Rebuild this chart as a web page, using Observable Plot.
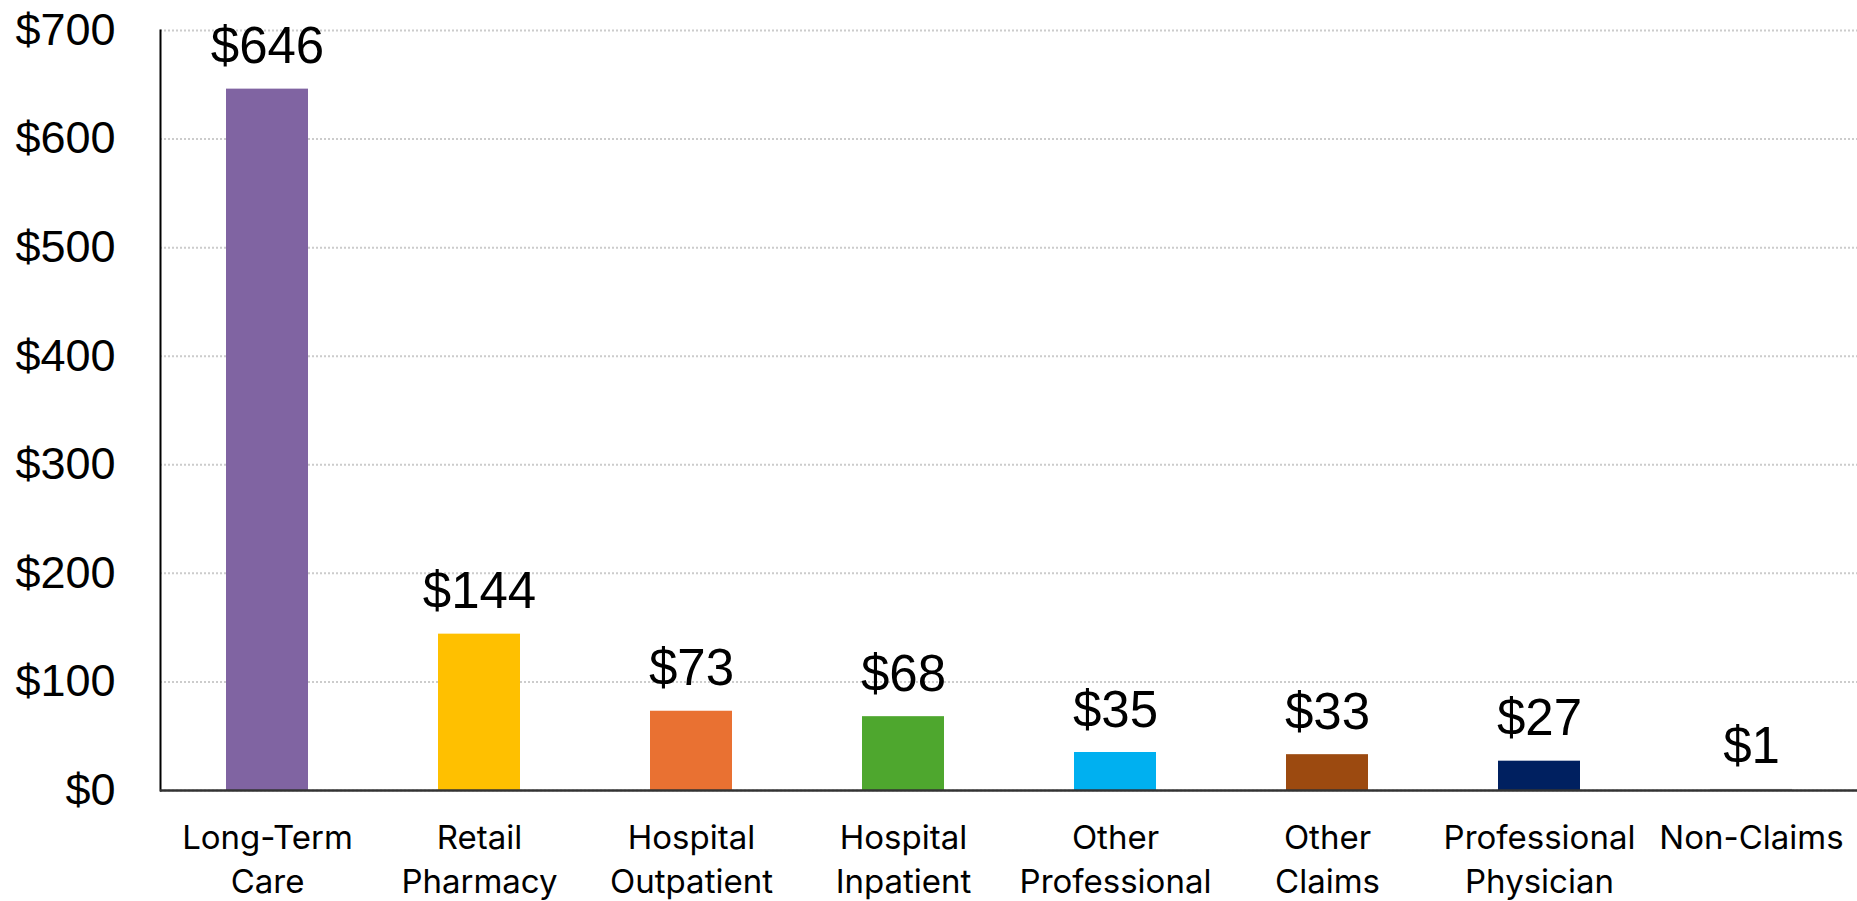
<!DOCTYPE html>
<html>
<head>
<meta charset="utf-8">
<script src="https://cdn.jsdelivr.net/npm/d3@7"></script>
<script src="https://cdn.jsdelivr.net/npm/@observablehq/plot@0.6"></script>
<style>
  html, body { margin: 0; padding: 0; background: #ffffff; }
  #chart svg { display: block; }
</style>
</head>
<body>
<div id="chart"></div>
<script>
// Data
const categories = ["Long-Term Care", "Retail Pharmacy", "Hospital Outpatient", "Hospital Inpatient", "Other Professional", "Other Claims", "Professional Physician", "Non-Claims"];
const categoryLabels = ["Long-Term\nCare", "Retail\nPharmacy", "Hospital\nOutpatient", "Hospital\nInpatient", "Other\nProfessional", "Other\nClaims", "Professional\nPhysician", "Non-Claims"];
const values = [646, 144, 73, 68, 35, 33, 27, 1];
const colors = ["#8064A2", "#FFC000", "#E97132", "#4EA72E", "#00B0F0", "#9C4A10", "#002060", "#A6A6A6"];
const yTicks = [0, 100, 200, 300, 400, 500, 600, 700];

const data = categories.map((c, i) => ({category: c, value: values[i], color: colors[i]}));
const labelOf = new Map(categories.map((c, i) => [c, categoryLabels[i]]));

const chart = Plot.plot({
  width: 1857,
  height: 901,
  marginTop: 30,
  marginBottom: 111,
  marginLeft: 160,
  marginRight: 0,
  style: {background: "#ffffff", color: "#000000"},
  x: {domain: categories, paddingInner: 0.615, paddingOuter: 0.3075, label: null},
  y: {domain: [0, 700], label: null},
  marks: [
    Plot.gridY(yTicks, {stroke: "#cccccc", strokeOpacity: 1, strokeWidth: 2, strokeDasharray: "2,2"}),
    Plot.barY(data, {x: "category", y: "value", fill: "color"}),
    Plot.text(data, {
      x: "category", y: "value", text: d => "$" + d.value,
      lineAnchor: "bottom", dy: -26,
      fontSize: 51, fontFamily: "Liberation Sans, Arial, sans-serif", fill: "#000000"
    }),
    Plot.axisY({
      ticks: yTicks, tickSize: 0, tickPadding: 45, tickFormat: d => "$" + d,
      fontSize: 45, fontFamily: "Liberation Sans, Arial, sans-serif", label: null
    }),
    Plot.axisX({
      tickSize: 0, tickPadding: 27, tickFormat: d => labelOf.get(d),
      fontSize: 33, fontFamily: "Inter, sans-serif", lineHeight: 1.33, lineAnchor: "top", label: null
    }),
    Plot.frame({anchor: "left", stroke: "#000000", strokeWidth: 2}),
    Plot.ruleY([0], {stroke: "#333333", strokeWidth: 2.5})
  ]
});
document.getElementById("chart").appendChild(chart);
</script>
</body>
</html>
